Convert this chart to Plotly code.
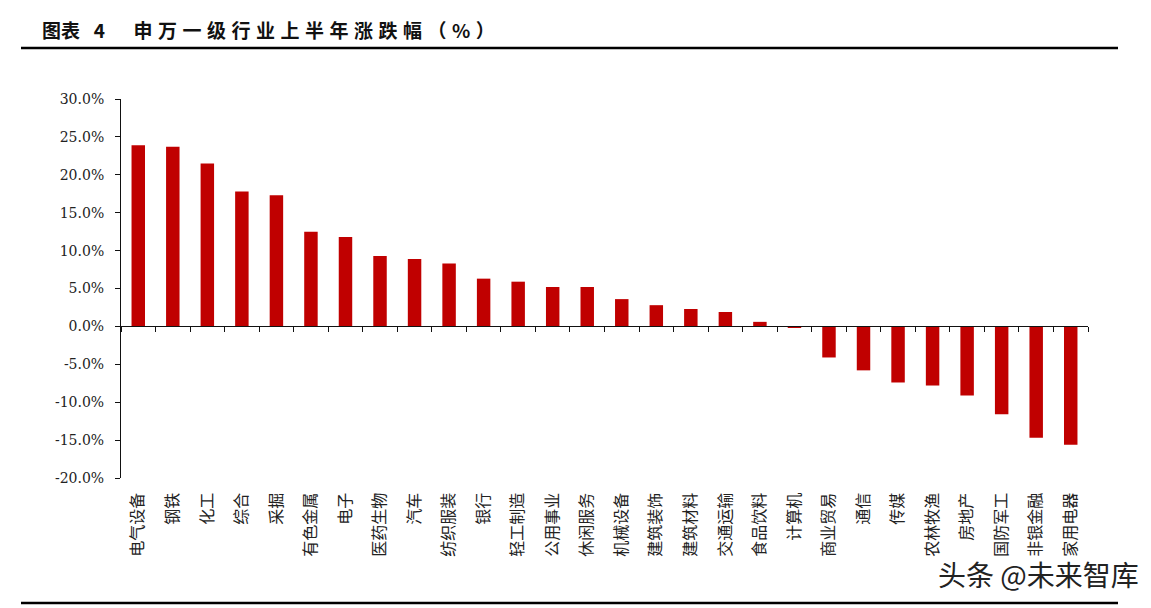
import plotly.graph_objects as go

categories = ["电气设备", "钢铁", "化工", "综合", "采掘", "有色金属", "电子", "医药生物",
              "汽车", "纺织服装", "银行", "轻工制造", "公用事业", "休闲服务", "机械设备",
              "建筑装饰", "建筑材料", "交通运输", "食品饮料", "计算机", "商业贸易", "通信",
              "传媒", "农林牧渔", "房地产", "国防军工", "非银金融", "家用电器"]
changes = [23.9, 23.7, 21.5, 17.8, 17.3, 12.5, 11.8, 9.3, 8.9, 8.3, 6.3, 5.9, 5.2, 5.2,
           3.6, 2.8, 2.3, 1.9, 0.6, -0.2, -4.1, -5.8, -7.4, -7.8, -9.1, -11.6, -14.7, -15.6]
y_tickvals = [-20, -15, -10, -5, 0, 5, 10, 15, 20, 25, 30]
y_ticktext = ["-20.0%", "-15.0%", "-10.0%", "-5.0%", "0.0%", "5.0%", "10.0%",
              "15.0%", "20.0%", "25.0%", "30.0%"]
title_label = "图表\u2002\u00a04"
title_main = "申万一级行业上半年涨跌幅（%）"
watermark = "头条 @未来智库"

W, H = 1151, 608
L, R, T, B = 121, 63, 99, 130
pw, ph = W - L - R, H - T - B


def px(x):
    return (x - L) / pw


def py(y):
    return (H - B - y) / ph


title_html = (title_label + "\u2002\u2002\u2002"
              + "<span style='letter-spacing:5.5px'>" + title_main + "</span>")

fig = go.Figure()
fig.add_trace(go.Bar(x=categories, y=changes, marker=dict(color="#C00000", line=dict(width=0)),
                     showlegend=False))

fig.update_layout(
    width=W, height=H,
    margin=dict(l=L, r=R, t=T, b=B, autoexpand=False),
    paper_bgcolor="white", plot_bgcolor="white",
    bargap=0.61,
    xaxis=dict(
        anchor="free", position=0.4, showline=True, linecolor="#111", linewidth=1,
        ticks="outside", ticklen=5, tickcolor="#111", tickson="boundaries",
        tickangle=-90, ticklabelstandoff=159, showgrid=False, zeroline=False,
        tickfont=dict(family="Noto Sans CJK SC", size=16, color="#222"),
        automargin=False,
    ),
    yaxis=dict(
        range=[-20, 30], tickvals=y_tickvals, ticktext=y_ticktext,
        showline=True, linecolor="#111", linewidth=1, ticks="outside", ticklen=5,
        tickcolor="#111", showgrid=False, zeroline=False, ticklabelstandoff=8,
        tickfont=dict(family="DejaVu Serif", size=14, color="#222"),
        automargin=False,
    ),
    annotations=[
        dict(text=title_html, x=px(40), y=py(29), xref="paper", yref="paper",
             xanchor="left", yanchor="middle", showarrow=False,
             font=dict(family="Noto Sans CJK SC", size=19, color="#111", weight="bold")),
        dict(text=watermark, x=px(1141), y=py(574), xref="paper", yref="paper",
             xanchor="right", yanchor="middle", showarrow=False,
             font=dict(family="Noto Sans CJK SC", size=28, color="#222")),
    ],
    shapes=[
        dict(type="line", xref="paper", yref="paper", x0=px(21), x1=px(1118),
             y0=py(48), y1=py(48), line=dict(color="black", width=2.5)),
        dict(type="line", xref="paper", yref="paper", x0=px(21), x1=px(1118),
             y0=py(603), y1=py(603), line=dict(color="black", width=2.5)),
    ],
)

fig.write_html("out.html")
